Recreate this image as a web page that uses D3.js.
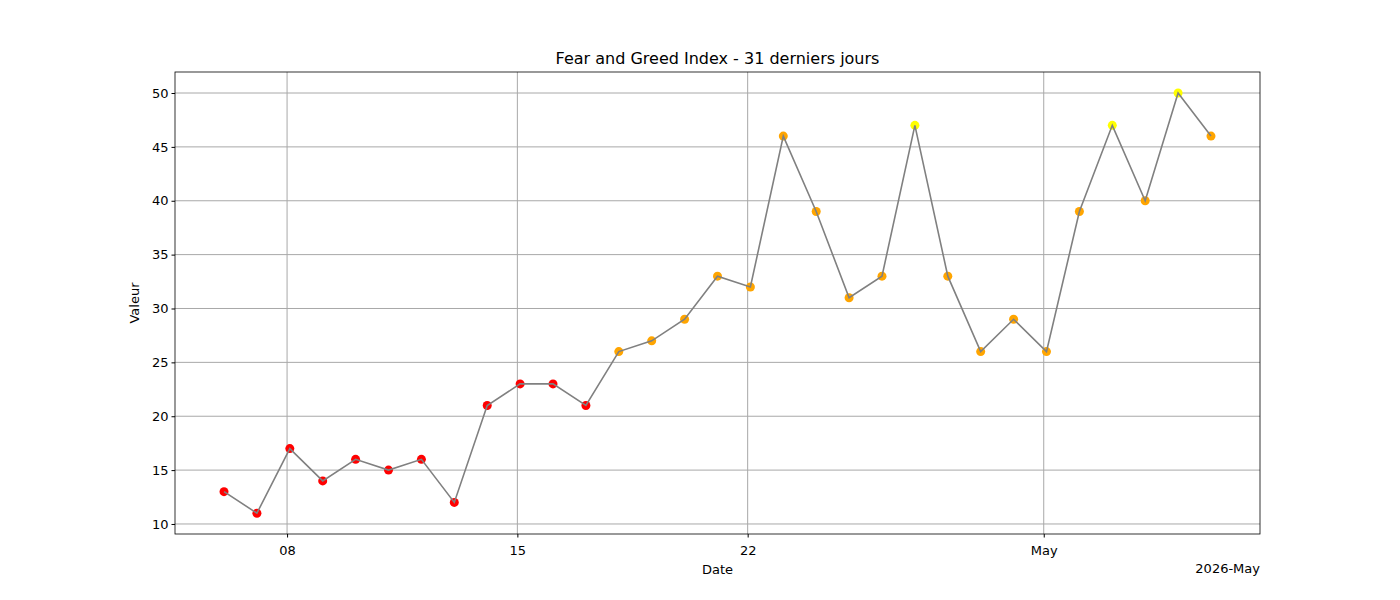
<!DOCTYPE html>
<html><head><meta charset="utf-8">
<script src="https://cdn.jsdelivr.net/npm/d3@7"></script>
<style>body{margin:0;background:#fff}svg{font-family:"DejaVu Sans",sans-serif}</style>
</head><body><svg id="c" width="1400" height="600"></svg>
<script>
const startDate = "2026-04-06T02:00";
const values = [13,11,17,14,16,15,16,12,21,23,23,21,26,27,29,33,32,46,39,31,33,47,33,26,29,26,39,47,40,50,46];
const tickDates = ["2026-04-08T00:00","2026-04-15T00:00","2026-04-22T00:00","2026-05-01T00:00"];
const tickLabels = ["08","15","22","May"];
const yTicks = [10,15,20,25,30,35,40,45,50];
const colorFor = v => v >= 47 ? "#ffff00" : v >= 25 ? "#ffa500" : "#ff0000";

const parse = d3.utcParse("%Y-%m-%dT%H:%M");
const day = 864e5;
const s0 = parse(startDate);
const dates = values.map((v,i)=>new Date(+s0 + i*day));
const svg = d3.select("#c");
const L=175,R=1260,T=72,B=534;
const x = d3.scaleUtc().domain([new Date(+s0-1.49*day), new Date(+dates[30]+1.49*day)]).range([L,R]);
const y = d3.scaleLinear().domain([9.07,51.95]).range([B,T]);
const td = tickDates.map(parse);

const g = svg.append("g");
g.selectAll(".gx").data(td).enter().append("line").attr("x1",d=>x(d)).attr("x2",d=>x(d)).attr("y1",T).attr("y2",B).attr("stroke","#a8a8a8").attr("stroke-width",1);
g.selectAll(".gy").data(yTicks).enter().append("line").attr("x1",L).attr("x2",R).attr("y1",d=>y(d)).attr("y2",d=>y(d)).attr("stroke","#a8a8a8").attr("stroke-width",1);

const xa = svg.append("g").attr("transform",`translate(0,${B})`).call(d3.axisBottom(x).tickValues(td).tickFormat((d,i)=>tickLabels[i]).tickSizeOuter(0).tickSize(3.5));
const ya = svg.append("g").attr("transform",`translate(${L},0)`).call(d3.axisLeft(y).tickValues(yTicks).tickSizeOuter(0).tickSize(3.5));
[xa,ya].forEach(a=>{a.select(".domain").remove();a.selectAll("text").attr("font-size",13).attr("fill","#000").attr("font-family","DejaVu Sans");});
xa.selectAll("text").attr("dy","1.1em");
svg.append("rect").attr("x",L).attr("y",T).attr("width",R-L).attr("height",B-T).attr("fill","none").attr("stroke","#000").attr("stroke-width",0.8);

svg.selectAll(".pt").data(values).enter().append("circle").attr("cx",(d,i)=>x(dates[i])).attr("cy",d=>y(d)).attr("r",4.5).attr("fill",d=>colorFor(d));
svg.append("path").datum(values).attr("fill","none").attr("stroke","#808080").attr("stroke-width",1.6)
 .attr("d",d3.line().x((d,i)=>x(dates[i])).y(d=>y(d)));

svg.append("text").attr("x",(L+R)/2).attr("y",64).attr("text-anchor","middle").attr("font-size",16).text("Fear and Greed Index - 31 derniers jours");
svg.append("text").attr("x",(L+R)/2).attr("y",574).attr("text-anchor","middle").attr("font-size",13).text("Date");
svg.append("text").attr("x",R).attr("y",573).attr("text-anchor","end").attr("font-size",13).text("2026-May");
svg.append("text").attr("transform",`translate(139,${(T+B)/2}) rotate(-90)`).attr("text-anchor","middle").attr("font-size",13).text("Valeur");
</script></body></html>
